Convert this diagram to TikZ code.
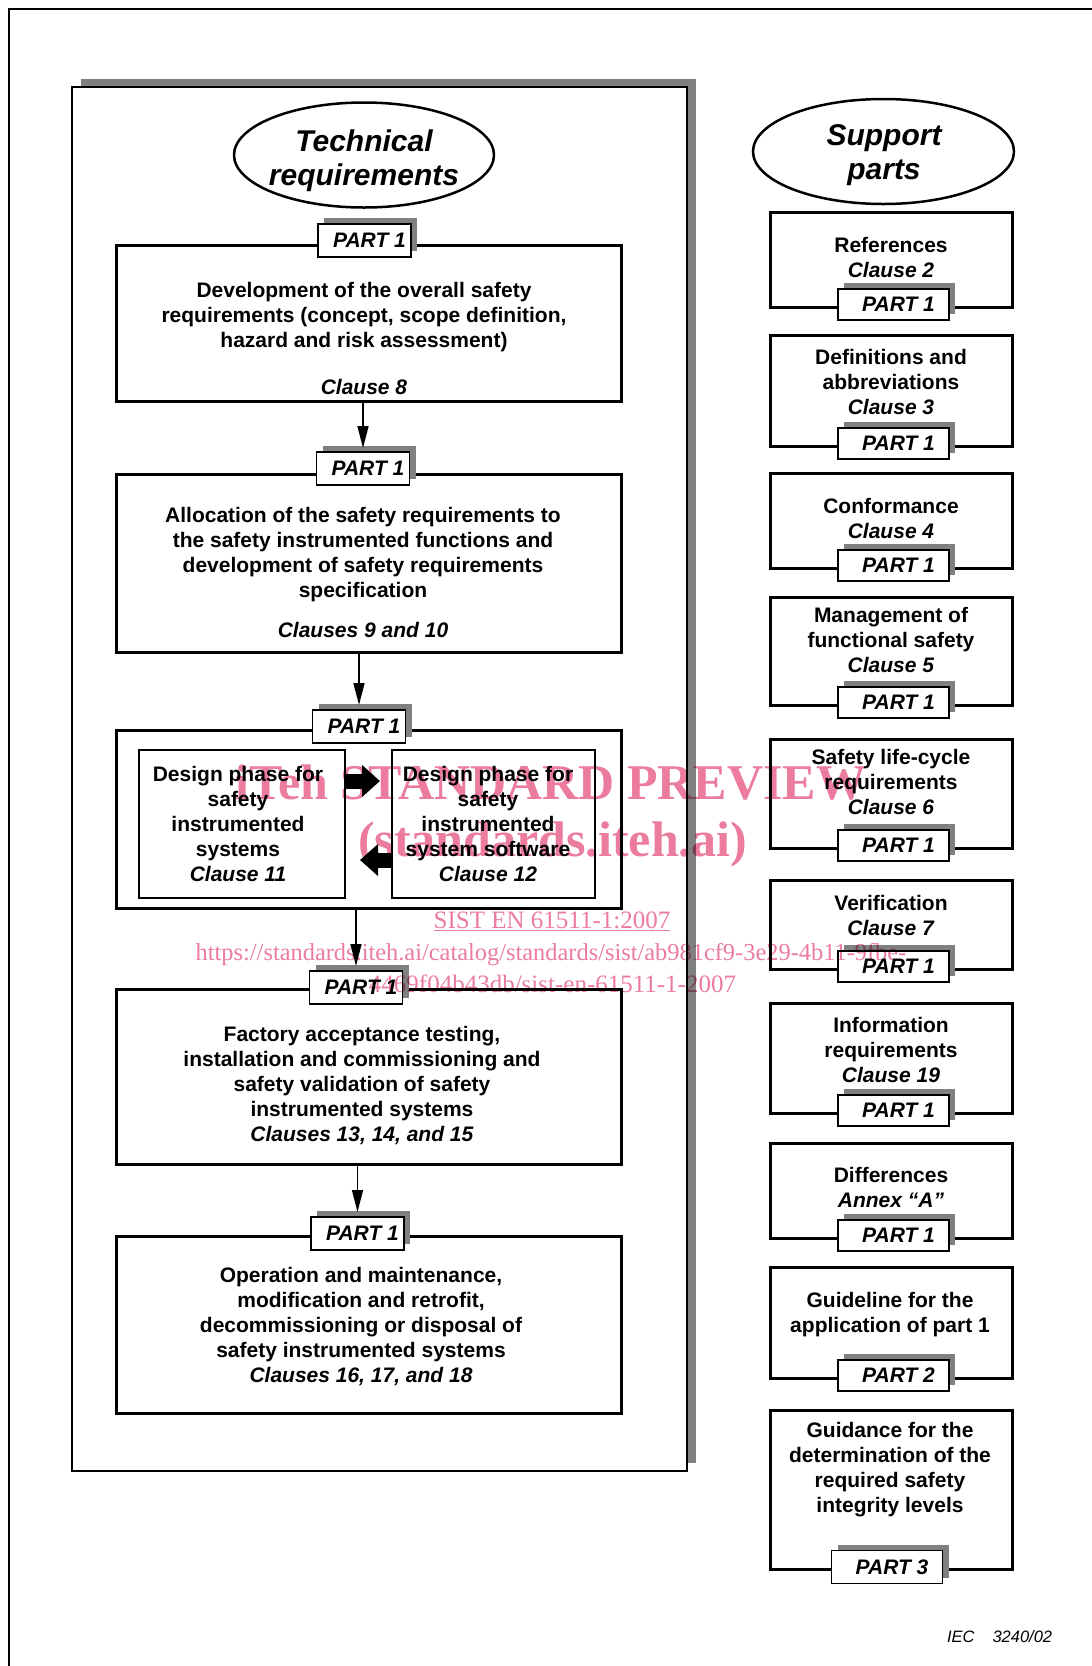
\documentclass[tikz,border=0pt]{standalone}
\usepackage{fontspec}
\setmainfont{Liberation Sans}
\newfontfamily\wmfont{Liberation Serif}
\usetikzlibrary{arrows.meta,shapes.geometric,shadows}
\definecolor{shgray}{RGB}{128,128,128}
\definecolor{wmpink}{RGB}{236,124,158}
\begin{document}
\begin{tikzpicture}[x=1pt,y=-1pt,
  every node/.style={inner sep=0pt,outer sep=0pt},
  maintxt/.style={font=\fontsize{21}{25}\selectfont\bfseries,align=center,anchor=north},
  lbox/.style={draw,line width=3pt,fill=white,minimum width=505,rectangle},
  rbox/.style={draw,line width=3pt,fill=white,minimum width=242,rectangle},
  inbox/.style={draw,line width=1.2pt,minimum height=148,rectangle},
  tabshadow/.style={drop shadow={shadow xshift=6pt,shadow yshift=6pt,opacity=1,fill=shgray}},
  ltab/.style={draw,line width=1.2pt,fill=white,minimum width=93,minimum height=33,font=\fontsize{21}{25}\selectfont\bfseries\itshape,tabshadow},
  rtab/.style={draw,line width=1.2pt,fill=white,minimum width=111,minimum height=31,font=\fontsize{21}{25}\selectfont\bfseries\itshape,tabshadow},
  conn/.style={line width=1.5pt,-{Triangle[length=22pt,width=11pt]}},
  blk/.style={line width=15pt,-{Triangle[length=18pt,width=31pt]}},
  oval/.style={draw,ellipse,line width=2.5pt,minimum width=260,minimum height=105},
  ovaltxt/.style={font=\fontsize{30}{34}\selectfont\bfseries\itshape,align=center,anchor=north},
  wm/.style={text=wmpink,anchor=base}
]
\useasboundingbox (0,0) rectangle (1092,1666);
\fill[white] (0,0) rectangle (1092,1666);
\draw[line width=2pt] (9,1666) -- (9,9) -- (1092,9);

% left panel
\node[draw,line width=2pt,fill=white,minimum width=614.5,minimum height=1384,
  drop shadow={shadow xshift=9pt,shadow yshift=8pt,opacity=1,fill=shgray}] (panel) at (379.25,779) {};

\node[oval] (techoval) at (364,155) {};
\node[ovaltxt] (techtxt) at (364,130) {Technical\\requirements};

% box 1
\node[lbox,minimum height=156] (b1) at (368.5,323) {};
\node[ltab] (t1) at (364.5,240.5) {\hspace{10pt}PART 1};
\node[maintxt] (x1) at (364,282) {Development of the overall safety\\requirements (concept, scope definition,\\hazard and risk assessment)\\[22pt]\textit{Clause 8}};

% box 2
\node[lbox,minimum height=178] (b2) at (368.5,563) {};
\node[ltab] (t2) at (363,468.5) {\hspace{10pt}PART 1};
\node[maintxt] (x2) at (363,507) {Allocation of the safety requirements to\\the safety instrumented functions and\\development of safety requirements\\specification\\[15pt]\textit{Clauses 9 and 10}};

% box 3
\node[lbox,minimum height=178] (b3) at (368.5,819) {};
\node[ltab] (t3) at (359,726.5) {\hspace{10pt}PART 1};
\node[inbox,minimum width=206] (ia) at (242,824) {};
\node[inbox,minimum width=203] (ib) at (493.5,824) {};
\node[maintxt] (xa) at (238,766) {Design phase for\\safety\\instrumented\\systems\\\textit{Clause 11}};
\node[maintxt] (xb) at (488,766) {Design phase for\\safety\\instrumented\\system software\\\textit{Clause 12}};
\draw[blk,shorten >=12pt] ([yshift=43pt]ia.east) -- ([yshift=43pt]ib.west);
\draw[blk,shorten >=15pt] ([yshift=-36pt]ib.west) -- ([yshift=-36pt]ia.east);

% box 4
\node[lbox,minimum height=175] (b4) at (368.5,1076.5) {};
\node[ltab] (t4) at (356,987.5) {\hspace{10pt}PART 1};
\node[maintxt] (x4) at (362,1026) {Factory acceptance testing,\\installation and commissioning and\\safety validation of safety\\instrumented systems\\\textit{Clauses 13, 14, and 15}};

% box 5
\node[lbox,minimum height=177] (b5) at (368.5,1324.5) {};
\node[ltab] (t5) at (357.5,1233.5) {\hspace{10pt}PART 1};
\node[maintxt] (x5) at (361,1267) {Operation and maintenance,\\modification and retrofit,\\decommissioning or disposal of\\safety instrumented systems\\\textit{Clauses 16, 17, and 18}};

% connectors
\draw[conn] (b1.south -| t2.north) -- ([yshift=4pt]t2.north);
\draw[conn] (b2.south -| t3.north) -- ([yshift=5pt]t3.north);
\draw[conn] (b3.south -| t4.north) -- ([yshift=5pt]t4.north);
\draw[conn] (b4.south -| t5.north) -- ([yshift=5pt]t5.north);

% right column
\node[oval,minimum width=261] (supoval) at (883.5,151.5) {};
\node[ovaltxt] (suptxt) at (884,125) {Support\\parts};

\node[rbox,minimum height=95] (r1) at (891,259.5) {};
\node[rtab] (rt1) at (893.5,304.5) {\hspace{10pt}PART 1};
\node[maintxt] (rx1) at (891,237) {References\\\textit{Clause 2}};

\node[rbox,minimum height=111] (r2) at (891,390.5) {};
\node[rtab] (rt2) at (893.5,443.5) {\hspace{10pt}PART 1};
\node[maintxt] (rx2) at (891,349) {Definitions and\\abbreviations\\\textit{Clause 3}};

\node[rbox,minimum height=95] (r3) at (891,520.5) {};
\node[rtab] (rt3) at (893.5,565.5) {\hspace{10pt}PART 1};
\node[maintxt] (rx3) at (891,498) {Conformance\\\textit{Clause 4}};

\node[rbox,minimum height=108] (r4) at (891,651) {};
\node[rtab] (rt4) at (893.5,702.5) {\hspace{10pt}PART 1};
\node[maintxt] (rx4) at (891,607) {Management of\\functional safety\\\textit{Clause 5}};

\node[rbox,minimum height=109] (r5) at (891,793.5) {};
\node[rtab] (rt5) at (893.5,845.5) {\hspace{10pt}PART 1};
\node[maintxt] (rx5) at (891,749) {Safety life-cycle\\requirements\\\textit{Clause 6}};

\node[rbox,minimum height=89] (r6) at (891,924.5) {};
\node[rtab] (rt6) at (893.5,966.5) {\hspace{10pt}PART 1};
\node[maintxt] (rx6) at (891,895) {Verification\\\textit{Clause 7}};

\node[rbox,minimum height=110] (r7) at (891,1058) {};
\node[rtab] (rt7) at (893.5,1110.5) {\hspace{10pt}PART 1};
\node[maintxt] (rx7) at (891,1017) {Information\\requirements\\\textit{Clause 19}};

\node[rbox,minimum height=95] (r8) at (891,1190.5) {};
\node[rtab] (rt8) at (893.5,1235.5) {\hspace{10pt}PART 1};
\node[maintxt] (rx8) at (891,1167) {Differences\\\textit{Annex “A”}};

\node[rbox,minimum height=111] (r9) at (891,1322.5) {};
\node[rtab] (rt9) at (893.5,1375.5) {\hspace{10pt}PART 2};
\node[maintxt] (rx9) at (890,1292) {Guideline for the\\application of part 1};

\node[rbox,minimum height=159] (r10) at (891,1489.5) {};
\node[rtab,minimum height=33] (rt10) at (887,1567) {\hspace{10pt}PART 3};
\node[maintxt] (rx10) at (890,1422) {Guidance for the\\determination of the\\required safety\\integrity levels};

\node[font=\fontsize{16.5}{18}\selectfont\itshape,anchor=base west] (iec) at (947,1642) {IEC\hspace{18pt}3240/02};

% watermark
\begin{scope}[blend mode=multiply]
\node[wm,font=\wmfont\fontsize{50}{50}\selectfont\bfseries] (wm1) at (551,799) {iTeh STANDARD PREVIEW};
\node[wm,font=\wmfont\fontsize{50}{50}\selectfont\bfseries] (wm2) at (552.5,856) {(standards.iteh.ai)};
\node[wm,font=\wmfont\fontsize{25}{25}\selectfont] (wm3) at (552,928) {\underline{SIST EN 61511-1:2007}};
\node[wm,font=\wmfont\fontsize{24.4}{25}\selectfont] (wm4) at (551,960) {https://standards.iteh.ai/catalog/standards/sist/ab981cf9-3e29-4b11-9fbe-};
\node[wm,font=\wmfont\fontsize{25}{25}\selectfont] (wm5) at (552.5,992) {4469f04b43db/sist-en-61511-1-2007};
\end{scope}
\end{tikzpicture}
\end{document}
